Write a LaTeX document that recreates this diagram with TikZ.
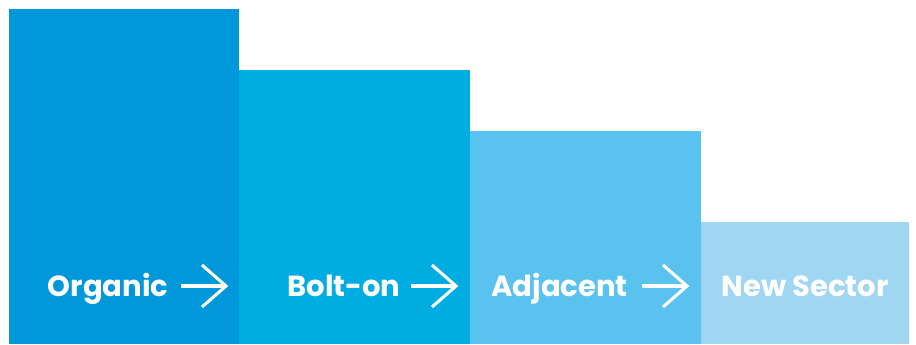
\documentclass[tikz,border=0pt]{standalone}
\usepackage{fontspec}
\setmainfont{Poppins}
\definecolor{cA}{RGB}{0,152,218}
\definecolor{cB}{RGB}{0,173,226}
\definecolor{cC}{RGB}{90,194,238}
\definecolor{cD}{RGB}{159,214,242}
\tikzset{
  label text/.style={text=white,font=\fontsize{21.8}{25}\selectfont\bfseries,inner sep=0pt,anchor=base},
  chevron/.style={draw=white,line width=2.3pt,line cap=butt,line join=miter}
}
\begin{document}
\begin{tikzpicture}[x=0.75pt,y=-0.75pt]
\useasboundingbox (0,0) rectangle (916,344);
\fill[white] (0,0) rectangle (916,344);
\fill[cA] (9,9) rectangle (239,344);
\fill[cB] (239,70) rectangle (470,344);
\fill[cC] (470,131) rectangle (701,344);
\fill[cD] (701,222) rectangle (909,344);
\node[label text] (t1) at (108,296.5) {Organic};
\node[label text] (t2) at (344,296.5) {Bolt-on};
\node[label text] (t3) at (559.5,296.5) {Adjacent};
\node[label text] (t4) at (805,296.5) {New Sector};
\foreach \x in {181,411,642}{
  \draw[chevron] (\x,286) -- (\x+45,286);
  \draw[chevron] (\x+21,265) -- (\x+45,286) -- (\x+21,307);
}
\end{tikzpicture}
\end{document}
